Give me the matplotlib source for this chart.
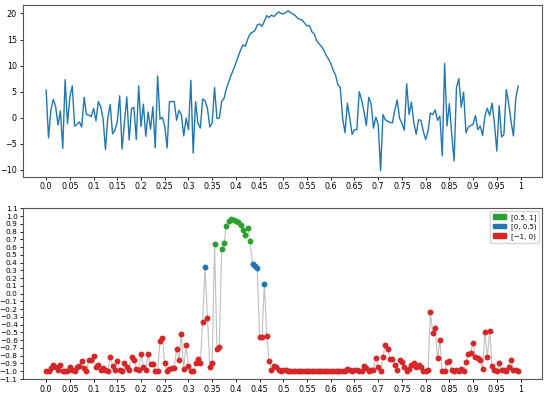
import numpy as np
import matplotlib
matplotlib.use("Agg")
import matplotlib.pyplot as plt
import matplotlib.patches as mpatches

x = np.round(np.arange(200) * 0.005, 3)

signal = [
    5.3, -3.9, 1.5, 3.5, 2.1, -1.4, 1.3, -5.9, 7.3, -1.2,
    4.0, 6.1, -1.6, -1.3, -0.8, -1.8, 3.9, 0.6, 0.5, 0.2,
    1.8, -0.6, 3.1, 2.1, -0.2, -6.1, 0.0, 2.5, -3.1, -2.4,
    -0.7, 4.2, -6.0, -1.0, 4.0, -4.3, 1.7, 2.0, -4.2, 6.1,
    -1.7, 2.6, -3.6, 1.1, -2.2, 2.1, -5.8, 8.0, -0.3, 0.1,
    -1.6, -5.8, 3.1, 3.1, 3.1, -0.5, 1.4, 0.6, -3.5, -0.1,
    -2.3, 7.2, -6.8, 3.1, -1.1, -2.0, 3.6, 3.2, 1.8, -1.8,
    -1.0, 5.8, -0.1, -0.1, 3.1, 3.7, 5.6, 6.9, 8.2, 9.3,
    10.5, 11.8, 13.0, 14.0, 13.7, 15.1, 16.1, 16.4, 16.7, 17.8,
    18.0, 17.5, 18.5, 19.6, 19.2, 19.7, 19.4, 19.9, 20.3, 20.0,
    19.9, 20.2, 20.5, 20.2, 19.9, 19.6, 19.1, 18.9, 18.7, 18.1,
    17.6, 17.7, 16.5, 16.1, 14.8, 14.2, 13.7, 13.0, 12.0, 11.3,
    10.4, 9.1, 8.2, 6.3, 5.8, -0.1, -2.9, 2.8, -0.1, -3.2,
    -2.3, -2.3, 5.0, 3.4, 1.2, -1.5, 3.9, 2.7, -2.0, 0.1,
    -1.3, -10.2, 0.6, -0.4, -0.7, -0.9, -1.0, 1.5, 3.4, -0.1,
    -1.1, -2.4, 6.5, 0.6, 3.0, -0.9, -3.2, -0.4, -0.5, -2.6,
    -4.2, -2.6, 0.9, 0.6, 1.5, -0.5, 0.3, -7.3, 10.4, -1.6,
    2.7, -3.2, -8.3, 5.8, 7.5, 2.0, 4.9, -2.9, -1.8, -1.5,
    -1.3, 0.4, -2.3, -1.6, -3.4, 0.4, 1.8, 0.4, 2.8, -1.1,
    -6.4, 2.3, -3.7, -3.2, 5.4, 2.8, -0.7, -3.5, 3.7, 6.1,
]

score = [
    -1.0, -1.0, -0.96, -0.92, -0.94, -0.98, -0.92, -1.0, -1.0, -1.0,
    -0.94, -0.98, -1.0, -0.95, -0.93, -0.87, -0.96, -1.0, -0.85, -0.85,
    -0.80, -0.94, -0.92, -0.98, -0.96, -0.98, -1.0, -0.81, -0.93, -0.98,
    -0.87, -0.98, -1.0, -0.90, -0.94, -0.98, -0.82, -0.85, -0.97, -0.98,
    -0.78, -0.94, -0.98, -0.78, -0.91, -0.91, -1.0, -1.0, -0.61, -0.57,
    -0.90, -1.0, -0.97, -0.96, -0.96, -0.71, -0.86, -0.52, -0.97, -0.66,
    -0.93, -1.0, -1.0, -0.89, -0.84, -0.90, -0.37, 0.34, -0.31, -0.94,
    -0.89, 0.64, -0.71, -0.69, 0.58, 0.65, 0.87, 0.94, 0.96, 0.95,
    0.94, 0.93, 0.89, 0.82, 0.76, 0.85, 0.68, 0.38, 0.36, 0.33,
    -0.56, -0.56, 0.12, -0.54, -0.87, -0.98, -0.93, -0.95, -0.99, -1.0,
    -0.98, -0.99, -1.0, -1.0, -1.0, -1.0, -1.0, -1.0, -1.0, -1.0,
    -1.0, -1.0, -1.0, -1.0, -1.0, -1.0, -1.0, -1.0, -1.0, -1.0,
    -1.0, -1.0, -1.0, -1.0, -1.0, -1.0, -1.0, -0.97, -0.99, -1.0,
    -0.98, -0.98, -1.0, -1.0, -0.93, -0.96, -1.0, -0.99, -0.98, -0.83,
    -0.95, -1.0, -0.82, -0.66, -0.71, -0.84, -0.84, -0.92, -0.98, -0.85,
    -0.88, -0.94, -1.0, -0.97, -0.92, -0.90, -0.95, -0.92, -0.95, -1.0,
    -1.0, -0.98, -0.24, -0.51, -0.44, -0.83, -0.60, -1.0, -1.0, -0.88,
    -0.87, -0.98, -1.0, -0.98, -1.0, -0.97, -1.0, -0.88, -0.78, -0.76,
    -0.63, -0.81, -0.83, -0.86, -0.97, -0.50, -0.82, -0.48, -0.93, -0.99,
    -1.0, -0.90, -0.99, -0.98, -1.0, -0.95, -0.85, -0.98, -0.98, -1.0,
]

xtick_vals = [0.0, 0.05, 0.1, 0.15, 0.2, 0.25, 0.3, 0.35, 0.4, 0.45, 0.5,
              0.55, 0.6, 0.65, 0.7, 0.75, 0.8, 0.85, 0.9, 0.95, 1.0]
xtick_labels = ["0.0", "0.05", "0.1", "0.15", "0.2", "0.25", "0.3", "0.35",
                "0.4", "0.45", "0.5", "0.55", "0.6", "0.65", "0.7", "0.75",
                "0.8", "0.85", "0.9", "0.95", "1"]

bin_labels = ["[0.5, 1]", "[0, 0.5)", "[\u22121, 0)"]
bin_colors = ["tab:green", "tab:blue", "tab:red"]

signal = np.array(signal)
score = np.array(score)

fig = plt.figure(figsize=(5.5, 3.95), dpi=100)
ax1 = fig.add_axes([0.041, 0.553, 0.944, 0.434])
ax2 = fig.add_axes([0.041, 0.0405, 0.944, 0.432])

fs = 5.8
ax1.plot(x, signal, color="tab:blue", lw=1.0)
ax1.set_xticks(xtick_vals)
ax1.set_xticklabels(xtick_labels)
ax1.set_yticks([-10, -5, 0, 5, 10, 15, 20])
ax1.set_ylim(-11.3, 21.6)

ax2.plot(x, score, color="#c0c0c0", lw=0.8, zorder=1)
masks = [score >= 0.5, (score >= 0) & (score < 0.5), score < 0]
for m, c in zip(masks, bin_colors):
    ax2.scatter(x[m], score[m], color=c, s=18, zorder=2, linewidths=0)
ax2.set_xticks(xtick_vals)
ax2.set_xticklabels(xtick_labels)
yt = np.round(np.arange(-11, 12) * 0.1, 1)
ax2.set_yticks(yt)
ax2.set_yticklabels([("%.1f" % v).replace("-", "\u2212") for v in yt])
ax2.set_ylim(-1.1, 1.1)

for ax in (ax1, ax2):
    ax.tick_params(labelsize=fs, length=2.5, width=0.6, pad=1.5)
    for s in ax.spines.values():
        s.set_linewidth(0.8)
        s.set_color("#555555")
    ax.set_xlim(-0.04975, 1.04475)
ax2.tick_params(axis="y", labelsize=5.3, pad=1)

handles = [mpatches.Patch(color=c, label=l) for c, l in zip(bin_colors, bin_labels)]
ax2.legend(handles=handles, loc="upper right", fontsize=5, handlelength=2.0,
           handleheight=0.7, borderpad=0.4, labelspacing=0.4, handletextpad=0.6,
           borderaxespad=0.4, framealpha=0.8)

fig.savefig("out.png", dpi=100)
